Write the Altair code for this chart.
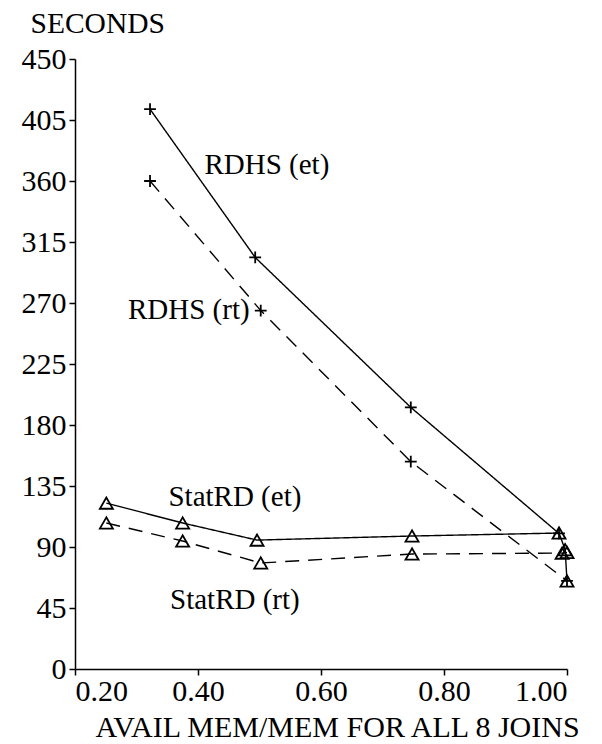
import altair as alt
import pandas as pd

# ---- data ----
rdhs_et_x = [0.322, 0.493, 0.746, 0.987]
rdhs_et_y = [413, 303.6, 193, 100]
rdhs_rt_x = [0.322, 0.502, 0.746, 1.0]
rdhs_rt_y = [360, 264.4, 153, 65]
stat_et_x = [0.251, 0.375, 0.496, 0.748, 0.987, 0.997, 1.0]
stat_et_y = [122.4, 107.7, 95.1, 98.1, 100.3, 88, 65]
stat_rt_x = [0.251, 0.375, 0.502, 0.748, 0.992, 1.0]
stat_rt_y = [107.7, 94.4, 78.2, 84.8, 85.5, 86]

series_names = ["RDHS (et)", "RDHS (rt)", "StatRD (et)", "StatRD (rt)"]
label_x = [0.512, 0.385, 0.46, 0.46]
label_y = [372, 265, 127, 51]

x_ticks = [0.2, 0.4, 0.6, 0.8, 1.0]
y_ticks = [0, 45, 90, 135, 180, 225, 270, 315, 360, 405, 450]

FONT = "Liberation Serif, Times New Roman, DejaVu Serif, serif"

rows = []
for name, xs, ys in [
    ("RDHS (et)", rdhs_et_x, rdhs_et_y),
    ("RDHS (rt)", rdhs_rt_x, rdhs_rt_y),
    ("StatRD (et)", stat_et_x, stat_et_y),
    ("StatRD (rt)", stat_rt_x, stat_rt_y),
]:
    for i, (a, b) in enumerate(zip(xs, ys)):
        rows.append({"series": name, "x": a, "y": b, "order": i,
                     "kind": "rt" if "(rt)" in name else "et",
                     "marker": "plus" if name.startswith("RDHS") else "tri"})
df = pd.DataFrame(rows)
labels = pd.DataFrame({"name": series_names, "x": label_x, "y": label_y})

xscale = alt.Scale(domain=[0.2, 1.0], nice=False, zero=False)
yscale = alt.Scale(domain=[0, 450], nice=False)

xenc = alt.X("x:Q", scale=xscale, axis=alt.Axis(
    values=x_ticks, format=".2f", title="AVAIL MEM/MEM FOR ALL 8 JOINS",
    grid=False, domainColor="black", domainWidth=1.5, tickColor="black",
    tickWidth=1.5, tickSize=6, labelFont=FONT, labelFontSize=30,
    labelColor="black", labelPadding=1, titleFont=FONT, titleFontSize=30,
    titleFontWeight="normal", titleColor="black", titleX=262, titleY=67,
    titleAlign="center", titleBaseline="alphabetic"))
yenc = alt.Y("y:Q", scale=yscale, axis=alt.Axis(
    values=y_ticks, format="d", title="SECONDS", grid=False,
    domainColor="black", domainWidth=1.5, tickColor="black", tickWidth=1.5,
    tickSize=6, labelFont=FONT, labelFontSize=30, labelColor="black",
    labelPadding=3, titleFont=FONT, titleFontSize=29.5, titleFontWeight="normal",
    titleColor="black", titleAngle=0, titleX=-45, titleY=-27,
    titleAlign="left", titleBaseline="alphabetic"))

base = alt.Chart(df)

lines = base.mark_line(color="black", strokeWidth=1.4).encode(
    x=xenc, y=yenc,
    detail="series:N",
    order="order:Q",
    strokeDash=alt.StrokeDash("kind:N", scale=alt.Scale(
        domain=["et", "rt"], range=[[1, 0], [14, 9]]), legend=None),
)

tris = base.transform_filter(alt.datum.marker == "tri").mark_point(
    shape="triangle-up", size=170, filled=False, color="black",
    strokeWidth=1.8, opacity=1).encode(x="x:Q", y="y:Q")

plus = base.transform_filter(alt.datum.marker == "plus").mark_point(
    shape="M-1,0L1,0M0,-1L0,1", size=140, filled=False, color="black",
    strokeWidth=1.8, opacity=1).encode(x="x:Q", y="y:Q")

text = alt.Chart(labels).mark_text(font=FONT, fontSize=29, color="black",
                                   align="center", baseline="middle").encode(
    x="x:Q", y="y:Q", text="name:N")

chart = alt.layer(lines, tris, plus, text).properties(
    width=492, height=610,
    padding={"left": 67, "top": 51, "right": 20, "bottom": 76},
    autosize=alt.AutoSizeParams(type="none"),
).configure(background="white", view=alt.ViewConfig(stroke=None))

chart.save("out.html", embed_options={"renderer": "svg", "actions": False})
